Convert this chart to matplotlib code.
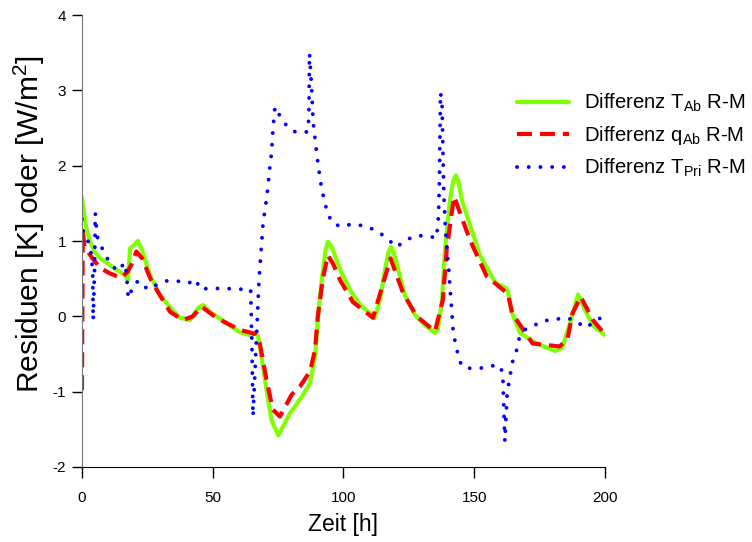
import matplotlib
matplotlib.use("Agg")
import matplotlib.pyplot as plt

plt.rcParams['font.family'] = ['Liberation Sans', 'DejaVu Sans']
plt.rcParams['mathtext.fontset'] = 'custom'
plt.rcParams['mathtext.rm'] = 'Liberation Sans'
plt.rcParams['mathtext.it'] = 'Liberation Sans'
plt.rcParams['axes.unicode_minus'] = False

# Differenz T_Ab R-M (green)
t_ab_x = [0, 1.5, 3, 5, 7, 10.7, 14, 16.4, 17.6, 18.4, 20, 21.4, 23, 26, 29.8, 33.7,
          37.5, 41.3, 44.4, 46.3, 49, 54.7, 60.4, 64.2, 66, 67.3, 68.7, 70.6, 72.5, 75.1,
          79.5, 84, 87.2, 89.1, 90.4, 91.7, 93, 94, 95, 96, 98.7, 102.5, 106.3, 110.9, 112, 114,
          115.9, 117.2, 118.2, 119.2, 120.5, 123.5, 127.3, 131.2, 135, 136.1, 137.7, 138.8,
          140.7, 142, 143, 144, 145.3, 148.4, 152.2, 158, 161.8, 162.9, 164.4, 167.5, 173.2,
          180.9, 183.6, 186.6, 189.7, 192.4, 195.4, 200]
t_ab_y = [1.58, 1.2, 1.0, 0.85, 0.77, 0.68, 0.6, 0.55, 0.48, 0.9, 0.95, 1.0, 0.88, 0.55, 0.28, 0.12,
          -0.02, -0.05, 0.11, 0.15, 0.06, -0.08, -0.21, -0.25, -0.22, -0.25, -0.54, -0.98, -1.38, -1.58,
          -1.29, -1.07, -0.89, -0.54, 0.04, 0.48, 0.85, 0.99, 0.95, 0.88, 0.62, 0.35, 0.15, 0.02, -0.02, 0.22,
          0.62, 0.85, 0.92, 0.85, 0.68, 0.28, 0.02, -0.12, -0.22, -0.18, 0.22, 0.88,
          1.54, 1.8, 1.87, 1.78, 1.54, 1.21, 0.81, 0.45, 0.38, 0.33, 0.05, -0.22, -0.35,
          -0.46, -0.42, -0.1, 0.29, 0.08, -0.12, -0.25]

# Differenz q_Ab R-M (red)
q_ab_x = [0, 0.3, 1, 4, 7, 10.7, 15, 17.4, 18.8, 20.8, 23, 26.4, 29.8, 33.7, 38.6, 42.4,
          45.7, 51.4, 60.4, 66, 68, 70.6, 73, 75.7, 80.2, 83.4, 87.2, 89.1, 90.2, 92, 94,
          96, 98.7, 103.6, 111.3, 115.5, 118, 120.8, 122.8, 128, 135, 138, 139.5, 141.5,
          142.3, 148.4, 154.8, 161.8, 162.9, 164.5, 172.3, 182.6, 185.6, 187.6, 190.7,
          195.4, 200]
q_ab_y = [-0.98, 1.14, 0.92, 0.77, 0.64, 0.57, 0.51, 0.59, 0.68, 0.86, 0.77, 0.48, 0.28, 0.06, -0.05, 0.0,
          0.13, -0.02, -0.18, -0.23, -0.36, -0.85, -1.24, -1.33, -1.04, -0.93, -0.73, -0.45, 0.0, 0.48, 0.81,
          0.7, 0.48, 0.19, -0.02, 0.48, 0.77, 0.5, 0.31, 0.0, -0.2, 0.22, 0.9, 1.4,
          1.59, 1.01, 0.53, 0.33, 0.3, 0.04, -0.36, -0.4, -0.31, 0.04, 0.26,
          -0.05, -0.24]

# Differenz T_Pri R-M (blue)
t_pri_x = [0, 0.5, 2.4, 3.4, 4.1, 4.3, 4.8, 5.1, 5.8, 6.9, 8.5, 10.7, 13.5, 16.4, 17.0, 17.7,
           19.0, 20.5, 22.2, 25, 28.6, 32.4, 36.2, 40.7, 43.6, 45.1, 48.2, 55, 60, 64.5,
           65.0, 65.4, 67.7, 68.7, 69.3, 70, 70.6, 71.1, 71.9, 72.5, 73, 73.4, 73.8, 74.5,
           76, 78.5, 81.5, 85.3, 86.5, 86.8, 87.0, 87.8, 88.4, 89.4, 90.4, 91.7, 93.8,
           95.7, 99, 102.7, 106.3, 110.4, 114.2, 117.4, 120.3, 123.8, 127.6, 131.6, 135.6,
           136.3, 136.7, 137.1, 137.7, 138.0, 138.4, 139.0, 139.6, 140.2, 140.7, 141.4,
           142, 143, 143.9, 145.2, 148.4, 152.2, 155.8, 159.6, 160.9, 161.7, 162.6, 163.9,
           164.8, 166.2, 167.2, 169.1, 172.9, 176.6, 180.9, 185, 188.5, 192.3, 195.5, 199.1]
t_pri_y = [1.29, 1.12, 0.99, 0.86, 0.6, -0.05, 0.6, 1.37, 1.06, 0.97, 0.84, 0.71, 0.6, 0.71, 0.57, 0.24,
           0.35, 0.45, 0.47, 0.36, 0.42, 0.47, 0.47, 0.44, 0.49, 0.36, 0.37, 0.37, 0.36, 0.36,
           -0.4, -1.33, 0.48, 0.97, 1.26, 1.41, 1.57, 1.72, 2.0, 2.17, 2.47, 2.63, 2.78, 2.74,
           2.64, 2.52, 2.45, 2.44, 2.46, 2.77, 3.49, 3.05, 2.58, 2.27, 1.99, 1.68, 1.38,
           1.24, 1.19, 1.22, 1.21, 1.17, 1.10, 1.01, 0.92, 1.01, 1.07, 1.07, 1.04,
           1.32, 1.81, 2.97, 2.83, 2.25, 1.59, 1.15, 0.88, 0.66, 0.39, 0.08,
           -0.23, -0.38, -0.53, -0.66, -0.69, -0.69, -0.66, -0.65, -0.75, -1.66, -1.02, -0.75,
           -0.58, -0.45, -0.29, -0.18, -0.12, -0.06, -0.04, -0.02, -0.05, -0.15, -0.09, 0.0]

labels = ['Differenz T$_{\\rm Ab}$ R-M', 'Differenz q$_{\\rm Ab}$ R-M', 'Differenz T$_{\\rm Pri}$ R-M']

fig = plt.figure(figsize=(7.52, 5.42), dpi=100)
ax = fig.add_axes([0.109, 0.1384, 0.6955, 0.8339])

l1, = ax.plot(t_ab_x, t_ab_y, color='#80ff00', lw=3, solid_joinstyle='round',
              solid_capstyle='round', label=labels[0])
l2, = ax.plot(q_ab_x, q_ab_y, color='#ff0000', lw=3, linestyle=(0, (3.6, 1.9)),
              dash_capstyle='butt', label=labels[1])
l3, = ax.plot(t_pri_x, t_pri_y, color='#0000ff', lw=2.8, linestyle=(0, (0.01, 3.0)),
              dash_capstyle='round', label=labels[2])

ax.set_xlim(0, 200)
ax.set_ylim(-2, 4)
ax.set_xticks([0, 50, 100, 150, 200])
ax.set_yticks([-2, -1, 0, 1, 2, 3, 4])
ax.spines['top'].set_visible(False)
ax.spines['right'].set_visible(False)
ax.spines['left'].set_color('#777777')
ax.spines['bottom'].set_color('black')
ax.tick_params(axis='x', direction='out', length=8, width=1, pad=9, labelsize=11)
ax.tick_params(axis='y', direction='out', length=7.5, width=1, pad=4, labelsize=11)

ax.set_xlabel('Zeit [h]', fontsize=16.5, labelpad=6)
ax.set_ylabel('Residuen [K] oder [W/m$^2$]', fontsize=21.5, labelpad=4)
ax.yaxis.label.set_y(0.537)

fig.legend(handles=[l1, l2, l3], loc='upper left', bbox_to_anchor=(0.688, 0.831),
           frameon=False, fontsize=14.6, handlelength=2.55, handletextpad=0.75,
           labelspacing=0.5, borderaxespad=0, borderpad=0)

fig.savefig('out.png', dpi=100)
